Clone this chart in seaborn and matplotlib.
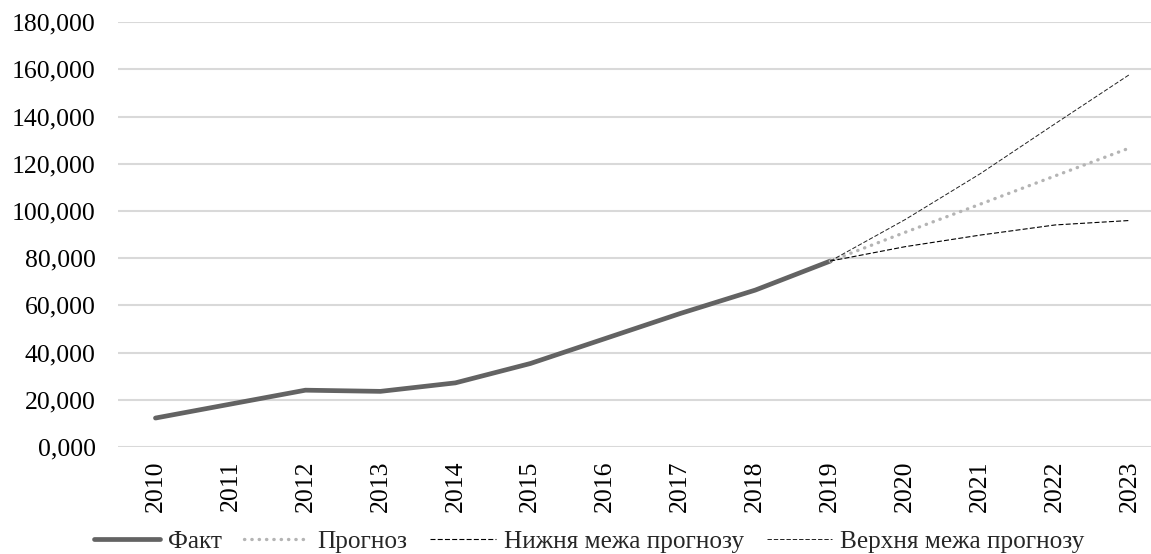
import matplotlib
matplotlib.use("Agg")
import matplotlib.pyplot as plt
import seaborn as sns
import pandas as pd
from matplotlib.ticker import FuncFormatter

years_fact = [2010, 2011, 2012, 2013, 2014, 2015, 2016, 2017, 2018, 2019]
fact = [12.3, 18.2, 24.1, 23.6, 27.2, 35.4, 46.0, 56.6, 66.5, 78.8]

years_fc = [2019, 2020, 2021, 2022, 2023]
forecast = [78.8, 91.0, 102.9, 114.9, 126.8]
lower = [78.8, 84.9, 89.8, 94.1, 96.0]
upper = [78.8, 96.4, 115.8, 137.0, 158.0]

labels = ["Факт", "Прогноз", "Нижня межа прогнозу", "Верхня межа прогнозу"]
all_years = list(range(2010, 2024))

sns.set_style("white")
plt.rcParams["font.family"] = ["Liberation Serif", "DejaVu Serif"]

fig = plt.figure(figsize=(11.51, 5.54), dpi=100)
ax = fig.add_axes([0.1025, 0.193, 0.912, 0.767])

df_fact = pd.DataFrame({"year": years_fact, "value": fact})
df_fc = pd.DataFrame({"year": years_fc, "forecast": forecast,
                      "lower": lower, "upper": upper})

sns.lineplot(data=df_fact, x="year", y="value", ax=ax, color="#636363",
             linewidth=3.4, label=labels[0], solid_capstyle="round")
sns.lineplot(data=df_fc, x="year", y="forecast", ax=ax, color="#b4b4b4",
             linewidth=2.4, linestyle=(0, (0.1, 2.1)), dash_capstyle="round",
             label=labels[1])
sns.lineplot(data=df_fc, x="year", y="lower", ax=ax, color="black",
             linewidth=0.8, linestyle=(0, (4.5, 2)), label=labels[2])
sns.lineplot(data=df_fc, x="year", y="upper", ax=ax, color="#222222",
             linewidth=0.7, linestyle=(0, (4.5, 2)), label=labels[3])

ax.set_xlim(2009.5, 2023.5)
ax.set_ylim(0, 180)
ax.set_yticks(range(0, 181, 20))
ax.yaxis.set_major_formatter(FuncFormatter(lambda v, p: f"{v:.3f}".replace(".", ",")))
ax.set_xticks(all_years)
ax.set_xticklabels([str(y) for y in all_years], rotation=90)
ax.tick_params(axis="both", labelsize=18.5, length=0, colors="black")
ax.tick_params(axis="x", pad=10)
ax.tick_params(axis="y", pad=16)
ax.grid(axis="y", color="#d9d9d9", linewidth=1.5)
ax.set_axisbelow(True)
for s in ax.spines.values():
    s.set_visible(False)
ax.set_xlabel("")
ax.set_ylabel("")

handles, labs = ax.get_legend_handles_labels()
ax.get_legend().remove()
fig.legend(handles, labs, loc="center", bbox_to_anchor=(0.512, 0.023),
           ncol=4, frameon=False, fontsize=18.2, handlelength=2.6,
           handletextpad=0.3, columnspacing=0.9, borderpad=0)

fig.savefig("out.png", dpi=100)
